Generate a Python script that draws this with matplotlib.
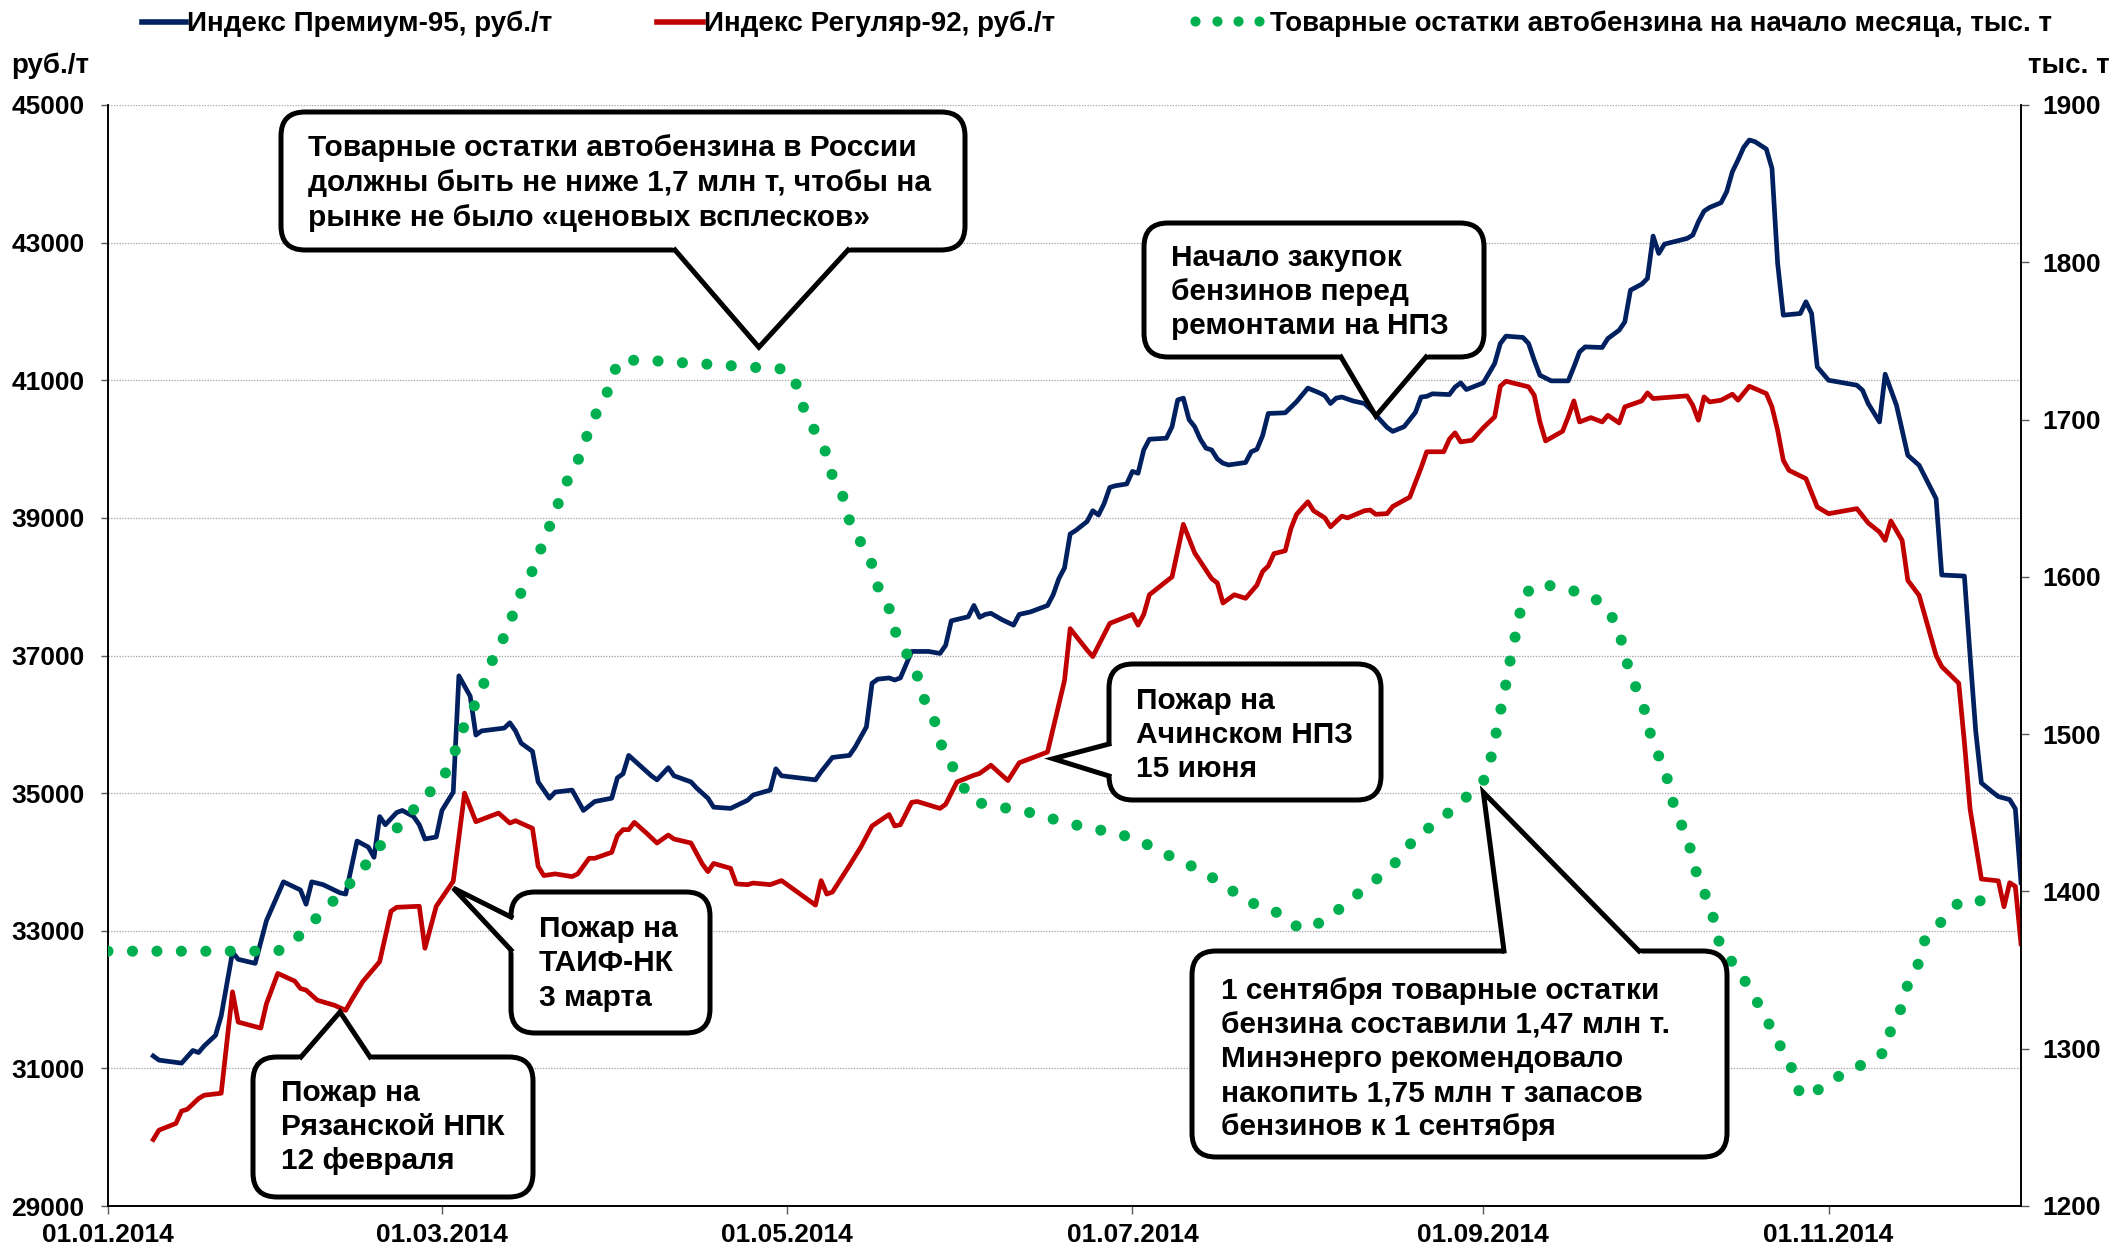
import numpy as np
import pandas as pd
import matplotlib
matplotlib.use('Agg')
import matplotlib.pyplot as plt
import matplotlib.dates as mdates
from matplotlib.patches import FancyBboxPatch, Polygon
from matplotlib.lines import Line2D
from matplotlib.transforms import IdentityTransform

plt.rcParams['font.family'] = ['Liberation Sans', 'DejaVu Sans']
plt.rcParams['font.weight'] = 'bold'

START = '2014-01-01'
END = '2014-12-05'

# Индекс Премиум-95 (days since 01.01.2014, руб./т)
premium_day = [8, 9, 13, 15, 16, 17, 19, 20, 22, 23, 26, 28, 31, 34, 35, 36, 38, 41, 42, 44,
               46, 47, 48, 49, 51, 52, 54, 55, 56, 58, 59, 61, 62, 64, 65, 66, 70, 71, 72, 73,
               75, 76, 78, 79, 82, 83, 84, 86, 89, 90, 91, 92, 94, 96, 97, 99, 100, 103, 104, 106,
               107, 110, 113, 114, 117, 118, 119, 125, 126, 128, 131, 132, 134, 135, 136, 138, 139, 140, 142, 145,
               147, 148, 149, 152, 153, 154, 155, 156, 158, 160, 161, 163, 166, 167, 168, 169, 170, 171, 173, 174,
               175, 176, 177, 178, 180, 181, 182, 183, 184, 187, 188, 189, 190, 191, 192, 193, 194, 195, 196, 197,
               198, 201, 202, 203, 204, 205, 208, 210, 212, 214, 215, 216, 217, 218, 220, 222, 223, 225, 226, 227,
               229, 231, 232, 233, 234, 237, 238, 239, 240, 243, 245, 246, 247, 250, 251, 252, 253, 255, 258, 259,
               260, 261, 264, 265, 267, 268, 269, 271, 272, 273, 274, 275, 279, 280, 281, 282, 283, 285, 286, 287,
               288, 289, 290, 291, 293, 294, 295, 296, 299, 300, 301, 302, 304, 309, 310, 311, 313, 314, 316, 318,
               320, 323, 324, 328, 329, 330, 331, 333, 334, 336, 337, 338]
premium_val = [31180, 31120, 31076, 31260, 31230, 31327, 31480, 31763, 32690, 32585, 32526, 33148, 33711, 33593, 33385, 33711, 33670, 33551, 33533, 34304,
               34215, 34067, 34659, 34541, 34718, 34748, 34659, 34541, 34333, 34363, 34748, 35015, 36704, 36407, 35844, 35904, 35945, 36022, 35904, 35726,
               35607, 35163, 34926, 35015, 35044, 34896, 34748, 34878, 34926, 35222, 35281, 35548, 35400, 35252, 35193, 35370, 35252, 35163, 35074, 34926,
               34796, 34778, 34896, 34973, 35044, 35353, 35252, 35193, 35311, 35519, 35548, 35667, 35963, 36597, 36656, 36674, 36644, 36674, 37059, 37059,
               37030, 37148, 37504, 37563, 37727, 37555, 37597, 37613, 37519, 37441, 37597, 37634, 37727, 37883, 38117, 38273, 38766, 38818, 38948, 39104,
               39041, 39208, 39442, 39467, 39493, 39675, 39649, 39987, 40143, 40158, 40325, 40714, 40740, 40429, 40325, 40143, 40013, 39987, 39857, 39795,
               39769, 39805, 39961, 39997, 40195, 40517, 40527, 40688, 40886, 40818, 40777, 40662, 40740, 40756, 40699, 40662, 40584, 40403, 40314, 40257,
               40325, 40532, 40756, 40766, 40803, 40792, 40900, 40962, 40865, 40962, 41243, 41534, 41641, 41622, 41534, 41291, 41073, 40991, 40991, 41194,
               41412, 41485, 41476, 41606, 41728, 41849, 42309, 42397, 42480, 43095, 42843, 42978, 43061, 43109, 43303, 43458, 43512, 43580, 43740, 44030,
               44200, 44384, 44491, 44467, 44360, 44079, 42700, 41946, 41970, 42140, 41970, 41194, 41000, 40928, 40855, 40661, 40394, 41088, 40637, 39910,
               39764, 39279, 38170, 38154, 37000, 35900, 35148, 35013, 34950, 34906, 34772, 33700]

# Индекс Регуляр-92 (days since 01.01.2014, руб./т)
regular_day = [8, 9, 12, 13, 14, 16, 17, 20, 22, 23, 27, 28, 30, 33, 34, 35, 37, 40, 42, 43,
               45, 48, 50, 51, 55, 56, 58, 61, 63, 65, 69, 71, 72, 75, 76, 77, 79, 82, 83, 85,
               86, 89, 90, 91, 92, 93, 95, 97, 99, 100, 103, 105, 106, 107, 110, 111, 113, 114, 117, 119,
               125, 126, 127, 128, 131, 133, 135, 138, 139, 140, 142, 143, 147, 148, 150, 153, 154, 156, 159, 161,
               166, 169, 170, 173, 174, 177, 181, 182, 183, 184, 188, 190, 192, 195, 196, 197, 199, 201, 203, 204,
               205, 206, 208, 209, 210, 212, 213, 215, 216, 218, 219, 222, 223, 224, 226, 227, 230, 232, 233, 236,
               237, 238, 239, 241, 243, 245, 246, 247, 251, 252, 253, 254, 257, 258, 259, 260, 262, 264, 265, 267,
               268, 271, 272, 273, 279, 280, 281, 282, 283, 285, 287, 288, 290, 293, 294, 295, 296, 297, 300, 302,
               304, 309, 311, 313, 314, 315, 317, 318, 320, 323, 324, 327, 328, 329, 331, 334, 335, 336, 337, 338]
regular_val = [29966, 30102, 30200, 30380, 30405, 30561, 30610, 30639, 32112, 31673, 31585, 31941, 32380, 32268, 32161, 32137, 31990, 31917, 31844, 31990,
               32259, 32551, 33283, 33341, 33356, 32746, 33356, 33720, 35000, 34585, 34710, 34565, 34599, 34488, 33937, 33802, 33826, 33787, 33826, 34053,
               34053, 34140, 34382, 34469, 34469, 34575, 34430, 34275, 34391, 34333, 34275, 33971, 33859, 33978, 33907, 33681, 33670, 33693, 33670, 33729,
               33373, 33729, 33533, 33563, 33948, 34215, 34523, 34689, 34523, 34541, 34867, 34878, 34778, 34837, 35163, 35260, 35286, 35405, 35182, 35441,
               35597, 36636, 37390, 37078, 36984, 37467, 37597, 37441, 37597, 37883, 38143, 38906, 38491, 38117, 38054, 37763, 37883, 37831, 38023, 38221,
               38300, 38480, 38522, 38844, 39052, 39234, 39104, 39000, 38870, 39026, 39000, 39104, 39114, 39052, 39062, 39166, 39301, 39727, 39961, 39961,
               40143, 40236, 40104, 40128, 40310, 40467, 40913, 40986, 40904, 40782, 40394, 40118, 40259, 40467, 40700, 40394, 40457, 40394, 40491, 40380,
               40613, 40700, 40816, 40734, 40773, 40637, 40419, 40758, 40685, 40710, 40797, 40710, 40913, 40807, 40613, 40273, 39837, 39691, 39570, 39158,
               39061, 39134, 38927, 38795, 38673, 38955, 38673, 38092, 37874, 37000, 36839, 36597, 35738, 34772, 33752, 33725, 33349, 33698, 33644, 32812]

# Товарные остатки автобензина (days since 01.01.2014, тыс. т)
stock_day = [0, 5, 10, 15, 20, 25, 30, 33, 36, 39, 42, 45, 47, 50, 53, 56, 59, 61, 62, 64,
             66, 67, 69, 71, 72, 74, 76, 77, 79, 80, 82, 84, 85, 87, 89, 90, 94, 98, 102, 107,
             111, 115, 120, 122, 123, 125, 127, 128, 130, 131, 133, 135, 136, 138, 139, 141, 143, 144, 146, 147,
             149, 151, 153, 157, 162, 166, 170, 174, 178, 182, 186, 190, 194, 197, 201, 206, 209, 212, 215, 218,
             222, 226, 229, 231, 235, 238, 241, 243, 244, 245, 246, 247, 248, 249, 250, 252, 254, 258, 262, 265,
             267, 268, 269, 271, 272, 273, 275, 276, 277, 279, 280, 281, 283, 284, 285, 288, 290, 292, 294, 296,
             298, 299, 303, 306, 310, 314, 315, 317, 318, 320, 321, 324, 327, 330, 334]
stock_val = [1362, 1362, 1362, 1362, 1362, 1362, 1362, 1369, 1380, 1391, 1402, 1414, 1425, 1436, 1448, 1460, 1471, 1485, 1498, 1513,
             1527, 1540, 1555, 1569, 1583, 1597, 1611, 1625, 1639, 1653, 1667, 1681, 1695, 1709, 1723, 1737, 1738, 1737, 1736, 1735,
             1734, 1733, 1732, 1720, 1706, 1692, 1678, 1664, 1650, 1636, 1622, 1608, 1594, 1580, 1566, 1552, 1537, 1524, 1509, 1495,
             1481, 1467, 1457, 1454, 1451, 1447, 1443, 1440, 1437, 1433, 1425, 1419, 1411, 1405, 1394, 1388, 1379, 1376, 1382, 1390,
             1402, 1413, 1424, 1435, 1444, 1454, 1463, 1470, 1479, 1496, 1514, 1532, 1552, 1568, 1587, 1595, 1595, 1592, 1588, 1580,
             1565, 1551, 1537, 1522, 1508, 1493, 1479, 1464, 1450, 1435, 1421, 1407, 1392, 1378, 1363, 1351, 1338, 1326, 1312, 1298,
             1284, 1270, 1275, 1283, 1290, 1298, 1312, 1327, 1341, 1355, 1369, 1381, 1393, 1395, 1390]

x_ticks = ['2014-01-01', '2014-03-01', '2014-05-01', '2014-07-01', '2014-09-01', '2014-11-01']
left_ticks = list(range(29000, 45001, 2000))
right_ticks = list(range(1200, 1901, 100))

legend_labels = ['Индекс Премиум-95, руб./т', 'Индекс Регуляр-92, руб./т',
                 'Товарные остатки автобензина на начало месяца, тыс. т']

BLUE, RED, GREEN = '#002060', '#C00000', '#00B050'
TICKC = '#595959'

def to_dates(days):
    return pd.Timestamp(START) + pd.to_timedelta(days, unit='D')

W, H = 2116, 1253
fig = plt.figure(figsize=(W / 100, H / 100), dpi=100)
L, R, T, B = 108, 2021, 105, 1206
ax = fig.add_axes([L / W, 1 - B / H, (R - L) / W, (B - T) / H])
ax2 = ax.twinx()

ax.plot(to_dates(premium_day), premium_val, color=BLUE, lw=3.4, solid_joinstyle='round', zorder=3)
ax.plot(to_dates(regular_day), regular_val, color=RED, lw=3.4, solid_joinstyle='round', zorder=3)
DOTS = (0, (0.001, 2.2))
ax2.plot(to_dates(stock_day), stock_val, color=GREEN, lw=8, linestyle=DOTS,
         dash_capstyle='round', zorder=3)

ax.set_xlim(pd.Timestamp(START), pd.Timestamp(END))
ax.set_ylim(29000, 45000)
ax2.set_ylim(1200, 1900)
ax.set_xticks(pd.to_datetime(x_ticks))
ax.xaxis.set_major_formatter(mdates.DateFormatter('%d.%m.%Y'))
ax.set_yticks(left_ticks)
ax2.set_yticks(right_ticks)

ax.yaxis.grid(True, color='#A0A0A0', linestyle=(0, (1, 1.2)), lw=0.9)
ax.set_axisbelow(True)
for a in (ax, ax2):
    a.spines['top'].set_visible(False)
    for s in ('left', 'right', 'bottom'):
        a.spines[s].set_linewidth(1.2)
        a.spines[s].set_color('black')
ax.tick_params(axis='y', direction='out', length=5, width=1, pad=12, labelsize=19, color=TICKC)
ax.tick_params(axis='x', direction='out', length=6, width=1, pad=6, labelsize=19, color=TICKC)
ax2.tick_params(axis='y', direction='out', length=5.5, width=1, pad=10, labelsize=19, color=TICKC)
for lab in ax.get_xticklabels() + ax.get_yticklabels() + ax2.get_yticklabels():
    lab.set_fontweight('bold')

FS_LEG = 20
FS = 21.5
# axis unit labels
fig.text(11 / W, 1 - 66 / H, 'руб./т', ha='left', va='center', fontsize=FS_LEG)
fig.text(2110 / W, 1 - 66 / H, 'тыс. т', ha='right', va='center', fontsize=FS_LEG)

IDT = IdentityTransform()

# legend (drawn manually)
LY = 24
fig.add_artist(Line2D([142, 186], [H - LY + 2, H - LY + 2], transform=IDT, color=BLUE, lw=4))
fig.text(187 / W, 1 - LY / H, legend_labels[0], ha='left', va='center', fontsize=FS_LEG)
fig.add_artist(Line2D([657, 703], [H - LY + 2, H - LY + 2], transform=IDT, color=RED, lw=4))
fig.text(704 / W, 1 - LY / H, legend_labels[1], ha='left', va='center', fontsize=FS_LEG)
fig.add_artist(Line2D([1195, 1216.5, 1237.5, 1258.5], [H - LY + 3] * 4, transform=IDT, color=GREEN,
                      linestyle='none', marker='o', markersize=7.3, markeredgewidth=0))
fig.text(1270 / W, 1 - LY / H, legend_labels[2], ha='left', va='center', fontsize=FS_LEG)


def tip_px(axis, date, value):
    x, y = axis.transData.transform((mdates.date2num(pd.Timestamp(date)), value))
    return np.array([x, y])


def callout(box, base, tip, lines, text_x, line_ys):
    x0, y0, x1, y1 = box
    patch = FancyBboxPatch((x0, H - y1), x1 - x0, y1 - y0,
                           boxstyle='round,pad=0,rounding_size=24', transform=IDT,
                           fc='white', ec='black', lw=3.6, zorder=10)
    fig.add_artist(patch)
    b1 = np.array([base[0][0], H - base[0][1]], float)
    b2 = np.array([base[1][0], H - base[1][1]], float)
    def inward(b):
        d = b - tip
        return b + d / np.linalg.norm(d) * 10
    fig.add_artist(Polygon([inward(b1), tip, inward(b2)], closed=True, transform=IDT,
                           fc='white', ec='none', zorder=11))
    fig.add_artist(Line2D([b1[0], tip[0], b2[0]], [b1[1], tip[1], b2[1]], transform=IDT,
                          color='black', lw=3.6, solid_joinstyle='miter', zorder=12))
    for txt, yy in zip(lines, line_ys):
        fig.text(text_x / W, 1 - yy / H, txt, ha='left', va='center', fontsize=FS, zorder=13)


callout((281, 112, 965, 250), ((675, 250), (848, 250)), tip_px(ax2, '2014-04-26', 1746),
        ['Товарные остатки автобензина в России',
         'должны быть не ниже 1,7 млн т, чтобы на',
         'рынке не было «ценовых всплесков»'], 308, [148, 183, 218])
callout((1144, 223, 1484, 357), ((1341, 357), (1426, 357)), tip_px(ax, '2014-08-13', 40480),
        ['Начало закупок', 'бензинов перед', 'ремонтами на НПЗ'], 1171, [258, 292, 326])
callout((1109, 664, 1381, 800), ((1109, 744), (1109, 776)), tip_px(ax, '2014-06-17', 35500),
        ['Пожар на', 'Ачинском НПЗ', '15 июня'], 1136, [701, 735, 769])
callout((511, 892, 710, 1033), ((511, 917), (511, 950)), tip_px(ax, '2014-03-03', 33620),
        ['Пожар на', 'ТАИФ-НК', '3 марта'], 539, [929, 963, 998])
callout((253, 1057, 533, 1197), ((301, 1057), (370, 1057)), tip_px(ax, '2014-02-11', 31820),
        ['Пожар на', 'Рязанской НПК', '12 февраля'], 281, [1093, 1127, 1161])
callout((1192, 951, 1727, 1157), ((1504, 951), (1639, 951)), tip_px(ax2, '2014-09-01', 1463),
        ['1 сентября товарные остатки', 'бензина составили 1,47 млн т.',
         'Минэнерго рекомендовало', 'накопить 1,75 млн т запасов', 'бензинов к 1 сентября'],
        1221, [991, 1025, 1059, 1093, 1127])

fig.savefig('out.png', dpi=100)
